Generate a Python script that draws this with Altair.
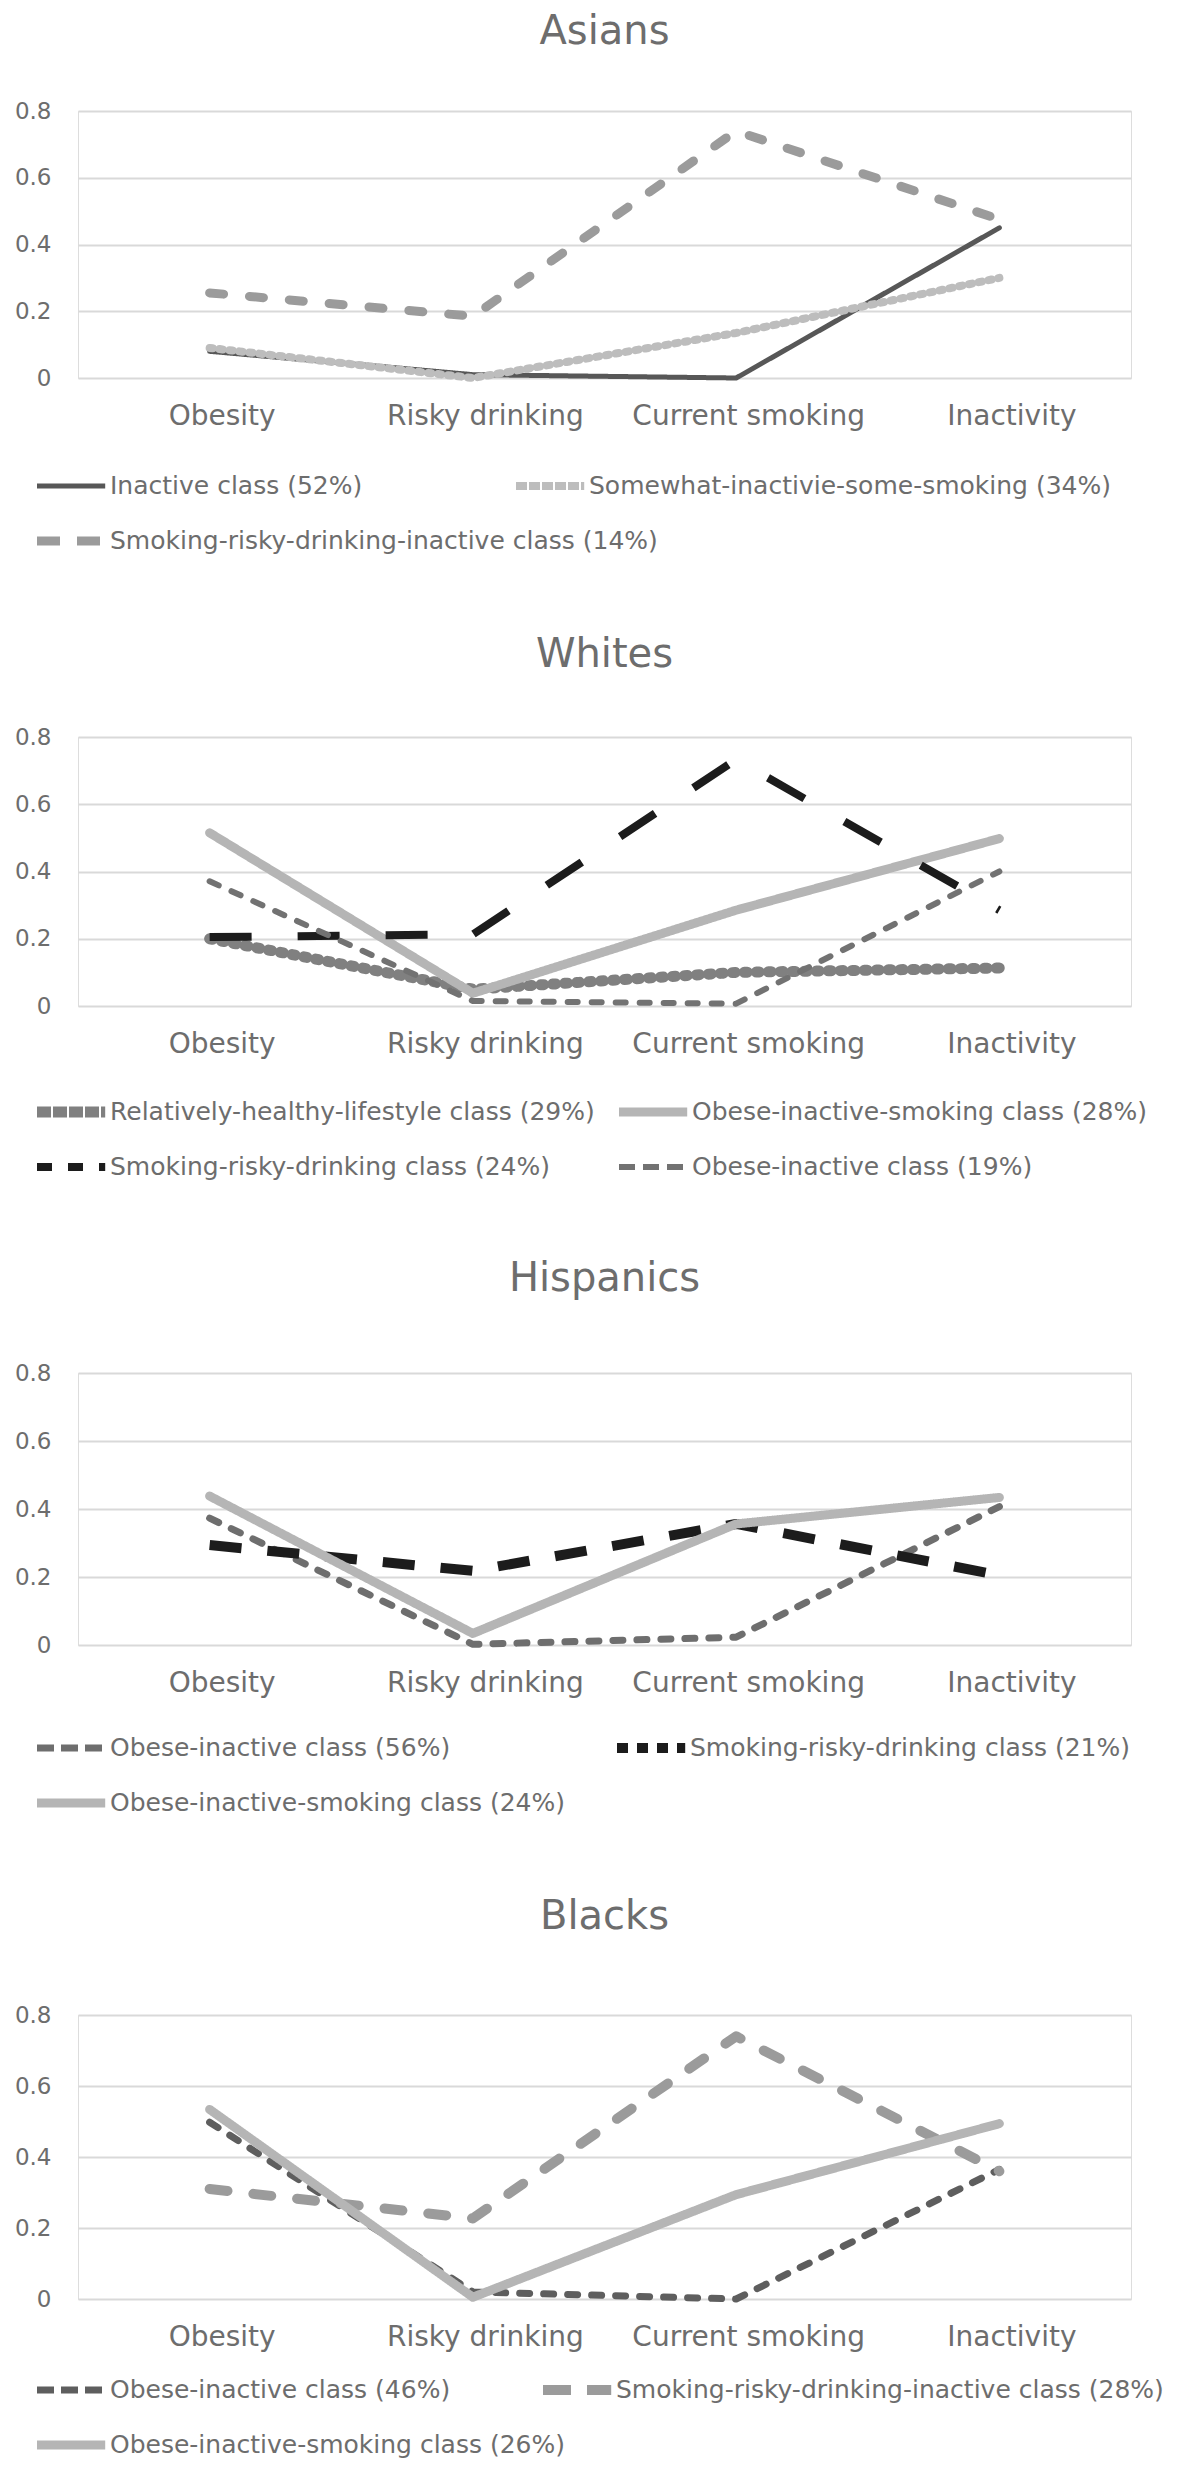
import math
import altair as alt
import pandas as pd

categories = ["Obesity", "Risky drinking", "Current smoking", "Inactivity"]

# ---- Asians ----
asian_classes = ["Inactive class (52%)",
                 "Somewhat-inactivie-some-smoking (34%)",
                 "Smoking-risky-drinking-inactive class (14%)"]
asian_values = [
    [0.08, 0.01, 0.00, 0.45],
    [0.09, 0.00, 0.135, 0.30],
    [0.255, 0.185, 0.74, 0.475],
]
asian_colors = ["#575757", "#bdbdbd", "#9b9b9b"]
asian_widths = [5, 8, 9]
asian_dashes = [[1, 0], [3, 7], [14, 26]]
asian_caps = ["round", "round", "round"]

# ---- Whites ----
white_classes = ["Relatively-healthy-lifestyle class (29%)",
                 "Obese-inactive-smoking class (28%)",
                 "Smoking-risky-drinking class (24%)",
                 "Obese-inactive class (19%)"]
white_values = [
    [0.20, 0.05, 0.10, 0.113],
    [0.515, 0.038, 0.285, 0.498],
    [0.205, 0.213, 0.733, 0.285],
    [0.371, 0.015, 0.007, 0.40],
]
white_colors = ["#808080", "#b5b5b5", "#1c1c1c", "#727272"]
white_widths = [11, 9, 8, 6]
white_dashes = [[3, 9], [1, 0], [42, 46], [10, 14]]
white_caps = ["round", "round", "butt", "round"]

# ---- Hispanics ----
hisp_classes = ["Obese-inactive class (56%)",
                "Smoking-risky-drinking class (21%)",
                "Obese-inactive-smoking class (24%)"]
hisp_values = [
    [0.373, 0.002, 0.023, 0.407],
    [0.294, 0.218, 0.356, 0.205],
    [0.438, 0.034, 0.356, 0.434],
]
hisp_colors = ["#6e6e6e", "#1c1c1c", "#b5b5b5"]
hisp_widths = [7, 10, 9]
hisp_dashes = [[10, 14], [32, 26], [1, 0]]
hisp_caps = ["round", "butt", "round"]

# ---- Blacks ----
black_classes = ["Obese-inactive class (46%)",
                 "Smoking-risky-drinking-inactive class (28%)",
                 "Obese-inactive-smoking class (26%)"]
black_values = [
    [0.498, 0.02, 0.0, 0.365],
    [0.31, 0.227, 0.74, 0.36],
    [0.534, 0.005, 0.294, 0.494],
]
black_colors = ["#5e5e5e", "#9b9b9b", "#b5b5b5"]
black_widths = [7, 10, 9]
black_dashes = [[10, 14], [18, 26], [1, 0]]
black_caps = ["round", "round", "round"]

TEXT = "#6d6d6d"
FONT = "DejaVu Sans"
PLOT_W = 1053
PLOT_LEFT = 77          # absolute x of the plot's left edge on the page
ROW_Y = [375, 430]      # legend row centres, measured from the plot top
SYM = 22                # legend symbol box (sqrt of symbolSize)


def legend_dash(dsh, sw, cap):
    """Dash pattern for the legend swatch (legend symbols have butt caps)."""
    if dsh[1] == 0:
        return dsh
    if cap == "round":
        return [dsh[0] + sw, max(dsh[1] - sw, 2)]
    return [round(dsh[0] * 0.35), round(dsh[1] * 0.35)]


def panel(title, classes, values, colors, widths, dashes, caps, slots, height,
          title_offset):
    rows = []
    for cls, vals in zip(classes, values):
        for cat, v in zip(categories, vals):
            rows.append({"category": cat, "value": v, "cls": cls})
    df = pd.DataFrame(rows)

    x = alt.X("category:N", sort=categories, title=None,
              axis=alt.Axis(labelAngle=0, domain=False, ticks=False, tickSize=0,
                            grid=False, labelFont=FONT, labelFontSize=28,
                            labelColor=TEXT, labelPadding=24, labelOffset=12,
                            labelLimit=500))
    y = alt.Y("value:Q", title=None,
              scale=alt.Scale(domain=[0, 0.8], nice=False, zero=True),
              axis=alt.Axis(values=[0, 0.2, 0.4, 0.6, 0.8], format="~g",
                            domain=False, ticks=False, tickSize=0,
                            gridColor="#d9d9d9", gridWidth=2,
                            labelFont=FONT, labelFontSize=23, labelColor=TEXT,
                            labelPadding=27))

    layers = []
    for cls, col, sw, dsh, cap, (sx, row) in zip(classes, colors, widths,
                                                  dashes, caps, slots):
        h = max(math.ceil(SYM + sw), 25)
        legend = alt.Legend(
            title=None, orient="none",
            legendX=sx - PLOT_LEFT - sw / 2, legendY=ROW_Y[row] - h / 2,
            symbolType="M-1,0L5.2,0", symbolSize=SYM * SYM,
            symbolStrokeWidth=sw, symbolDash=legend_dash(dsh, sw, cap),
            symbolStrokeColor=col, symbolFillColor="transparent",
            labelFont=FONT, labelFontSize=25, labelColor=TEXT, labelLimit=900,
            labelOffset=51 - sw / 2, padding=0,
        )
        layers.append(
            alt.Chart(df).transform_filter(alt.datum.cls == cls)
            .mark_line(strokeCap=cap, strokeJoin="round", strokeWidth=sw,
                       strokeDash=dsh)
            .encode(
                x=x, y=y,
                color=alt.Color("cls:N", scale=alt.Scale(domain=[cls], range=[col]),
                                legend=legend),
            )
        )
    return alt.layer(*layers).resolve_scale(color="independent").properties(
        width=PLOT_W, height=height,
        title=alt.TitleParams(title, font=FONT, fontSize=40, fontWeight="normal",
                              color=TEXT, anchor="middle", offset=title_offset),
    )


chart = alt.vconcat(
    panel("Asians", asian_classes, asian_values, asian_colors, asian_widths,
          asian_dashes, asian_caps, [(36, 0), (515, 0), (36, 1)], 267, 48),
    panel("Whites", white_classes, white_values, white_colors, white_widths,
          white_dashes, white_caps, [(36, 0), (618, 0), (36, 1), (618, 1)], 269, 51),
    panel("Hispanics", hisp_classes, hisp_values, hisp_colors, hisp_widths,
          hisp_dashes, hisp_caps, [(36, 0), (616, 0), (36, 1)], 272, 63),
    panel("Blacks", black_classes, black_values, black_colors, black_widths,
          black_dashes, black_caps, [(36, 0), (542, 0), (36, 1)], 284, 67),
    spacing=74,
).resolve_scale(color="independent").configure_view(stroke=None).configure(
    padding={"left": 5, "top": 3, "right": 0, "bottom": 4}, font=FONT
)

chart.save("out.html", embed_options={"renderer": "svg", "actions": False})
